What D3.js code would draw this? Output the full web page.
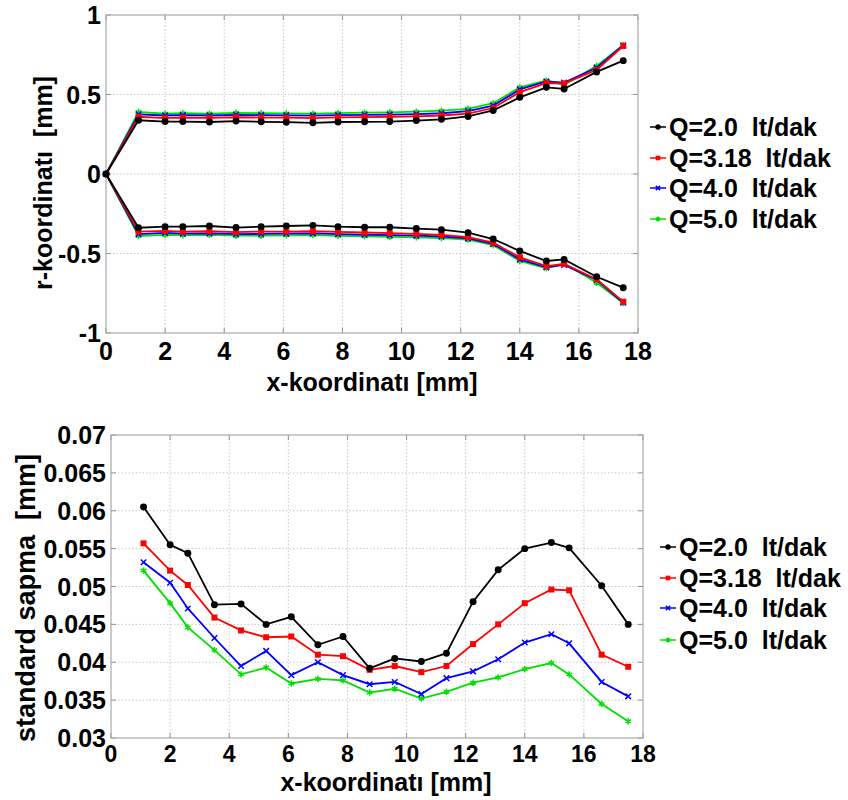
<!DOCTYPE html>
<html>
  <head>
    <title>r-koordinatı / standard sapma</title>
    <script src="https://cdnjs.cloudflare.com/ajax/libs/d3/7.8.5/d3.min.js"></script>
  <style>
body
{
  margin: 0;
  background: white;
}

svg text
{
  font-family: "Liberation Sans", Arial, sans-serif;
  font-weight: bold;
  fill: black;
}

line.grid
{
  stroke: #c8c8c8;
  stroke-width: 1px;
  stroke-dasharray: 1.5 2;
}

rect.frame
{
  fill: none;
  stroke: #a8a8a8;
  stroke-width: 1.2px;
}
  </style>
  </head>
  <body>
    <div id="chart"></div>
<script>
// x positions (mm) of the measuring stations
var xTop = [0, 1.1, 2.0, 2.6, 3.5, 4.4, 5.25, 6.1, 7.0, 7.85, 8.75, 9.6, 10.5,
            11.35, 12.25, 13.1, 14.0, 14.9, 15.5, 16.6, 17.5];
var xBottom = xTop.slice(1);

var seriesNames = ['Q=2.0  lt/dak', 'Q=3.18  lt/dak', 'Q=4.0  lt/dak', 'Q=5.0  lt/dak'];
var seriesColors = ['#000000', '#ff0000', '#0000ff', '#00e000'];

// upper contour r (mm)
var rUp2 = [0, 0.338, 0.330, 0.330, 0.327, 0.333, 0.328, 0.326, 0.322, 0.327, 0.328,
            0.330, 0.336, 0.344, 0.362, 0.400, 0.482, 0.545, 0.535, 0.642, 0.713];
var rUp318 = [0, 0.360, 0.352, 0.355, 0.353, 0.357, 0.355, 0.354, 0.352, 0.356, 0.358,
              0.360, 0.363, 0.368, 0.380, 0.415, 0.515, 0.572, 0.570, 0.655, 0.805];
var rUp4 = [0, 0.375, 0.368, 0.370, 0.368, 0.372, 0.370, 0.369, 0.367, 0.370, 0.372,
            0.374, 0.377, 0.382, 0.395, 0.430, 0.532, 0.582, 0.575, 0.668, 0.810];
var rUp5 = [0, 0.390, 0.380, 0.382, 0.380, 0.385, 0.382, 0.381, 0.380, 0.383, 0.386,
            0.388, 0.392, 0.398, 0.410, 0.445, 0.545, 0.588, 0.560, 0.680, 0.812];

// lower contour r (mm)
var rLow2 = [0, -0.338, -0.331, -0.331, -0.327, -0.337, -0.331, -0.327, -0.323, -0.331, -0.335,
             -0.335, -0.343, -0.350, -0.369, -0.409, -0.484, -0.547, -0.537, -0.646, -0.715];
var rLow318 = [0, -0.362, -0.358, -0.362, -0.360, -0.365, -0.362, -0.362, -0.360, -0.364, -0.368,
               -0.372, -0.376, -0.383, -0.397, -0.432, -0.524, -0.579, -0.566, -0.662, -0.803];
var rLow4 = [0, -0.378, -0.370, -0.375, -0.373, -0.378, -0.377, -0.375, -0.373, -0.378, -0.382,
             -0.385, -0.388, -0.393, -0.405, -0.440, -0.537, -0.587, -0.572, -0.667, -0.810];
var rLow5 = [0, -0.390, -0.383, -0.385, -0.383, -0.388, -0.388, -0.386, -0.384, -0.389, -0.392,
             -0.395, -0.398, -0.403, -0.413, -0.448, -0.547, -0.593, -0.562, -0.684, -0.812];

// standard deviation (mm)
var sd2 = [0.0605, 0.0555, 0.0544, 0.0476, 0.0477, 0.0450, 0.0460, 0.0423, 0.0434, 0.0392,
           0.0405, 0.0401, 0.0412, 0.0480, 0.0522, 0.0550, 0.0558, 0.0551, 0.0501, 0.0450];
var sd318 = [0.0557, 0.0521, 0.0502, 0.0459, 0.0442, 0.0433, 0.0434, 0.0410, 0.0408, 0.0390,
             0.0395, 0.0387, 0.0395, 0.0424, 0.0450, 0.0478, 0.0496, 0.0495, 0.0410, 0.0394];
var sd4 = [0.0532, 0.0505, 0.0471, 0.0432, 0.0395, 0.0415, 0.0383, 0.0400, 0.0383, 0.0371,
           0.0374, 0.0358, 0.0379, 0.0388, 0.0404, 0.0426, 0.0437, 0.0425, 0.0374, 0.0355];
var sd5 = [0.0521, 0.0478, 0.0446, 0.0416, 0.0384, 0.0393, 0.0372, 0.0378, 0.0376, 0.0360,
           0.0365, 0.0352, 0.0361, 0.0373, 0.0380, 0.0391, 0.0399, 0.0384, 0.0345, 0.0322];

var xTicks = [0, 2, 4, 6, 8, 10, 12, 14, 16, 18];
var rTicks = [-1, -0.5, 0, 0.5, 1];
var rTickLabels = ['-1', '-0.5', '0', '0.5', '1'];
var sdTicks = [0.03, 0.035, 0.04, 0.045, 0.05, 0.055, 0.06, 0.065, 0.07];
var sdTickLabels = ['0.03', '0.035', '0.04', '0.045', '0.05', '0.055', '0.06', '0.065', '0.07'];

var svg = d3.select("#chart").append("svg")
  .attr("width", 848).attr("height", 800);

// marker shapes: circle, square, small x, small asterisk
var markers = [
  {type: d3.symbolCircle, size: 38, fill: true},
  {type: d3.symbolSquare, size: 36, fill: true},
  {type: d3.symbolTimes, size: 22, fill: false},
  {type: d3.symbolAsterisk, size: 28, fill: false}
];

function drawMarker(g, i, scale) {
  var m = markers[i];
  var p = g.append("path")
    .attr("d", d3.symbol().type(m.type).size(m.size * (scale || 1))());
  if (m.fill) p.attr("fill", seriesColors[i]).attr("stroke", "none");
  else p.attr("fill", "none").attr("stroke", seriesColors[i]).attr("stroke-width", 1.5);
  return p;
}

function panel(opt) {
  var x = d3.scaleLinear().domain([0, 18]).range([opt.left, opt.right]);
  var y = d3.scaleLinear().domain(opt.yDomain).range([opt.bottom, opt.top]);
  var g = svg.append("g");

  // grid
  g.selectAll("line.gx").data(xTicks.slice(1, -1)).enter().append("line")
    .attr("class", "grid")
    .attr("x1", x).attr("x2", x).attr("y1", opt.top).attr("y2", opt.bottom);
  g.selectAll("line.gy").data(opt.yTicks.slice(1, -1)).enter().append("line")
    .attr("class", "grid")
    .attr("y1", y).attr("y2", y).attr("x1", opt.left).attr("x2", opt.right);

  // inward ticks on all sides
  var tk = 5;
  var tickG = g.append("g").attr("stroke", "#909090").attr("stroke-width", 1);
  xTicks.forEach(function(t) {
    tickG.append("line").attr("x1", x(t)).attr("x2", x(t))
      .attr("y1", opt.bottom).attr("y2", opt.bottom - tk);
    tickG.append("line").attr("x1", x(t)).attr("x2", x(t))
      .attr("y1", opt.top).attr("y2", opt.top + tk);
  });
  opt.yTicks.forEach(function(t) {
    tickG.append("line").attr("y1", y(t)).attr("y2", y(t))
      .attr("x1", opt.left).attr("x2", opt.left + tk);
    tickG.append("line").attr("y1", y(t)).attr("y2", y(t))
      .attr("x1", opt.right).attr("x2", opt.right - tk);
  });

  g.append("rect").attr("class", "frame")
    .attr("x", opt.left).attr("y", opt.top)
    .attr("width", opt.right - opt.left).attr("height", opt.bottom - opt.top);

  // tick labels
  g.selectAll("text.xt").data(xTicks).enter().append("text")
    .attr("x", x).attr("y", opt.bottom + opt.xTickDy)
    .attr("text-anchor", "middle")
    .style("font-size", opt.xTickSize + "px")
    .text(function(d) { return d; });
  g.selectAll("text.yt").data(opt.yTicks).enter().append("text")
    .attr("x", opt.left - 5).attr("y", function(d) { return y(d) + 9; })
    .attr("text-anchor", "end")
    .style("font-size", "25px")
    .text(function(d, i) { return opt.yTickLabels[i]; });

  // axis titles
  g.append("text")
    .attr("x", opt.xLabelX).attr("y", opt.xLabelY)
    .attr("text-anchor", "middle")
    .style("font-size", "25px")
    .text("x-koordinatı [mm]");
  g.append("text")
    .attr("transform", "translate(" + opt.yLabelX + "," + opt.yLabelY + ") rotate(-90)")
    .attr("text-anchor", "middle")
    .style("font-size", opt.yLabelSize + "px")
    .style("white-space", "pre")
    .text(opt.yLabel);

  // series
  var line = d3.line()
    .x(function(d) { return x(d[0]); })
    .y(function(d) { return y(d[1]); });
  opt.series.forEach(function(s) {
    var pts = d3.zip(opt.xs, s.values);
    g.append("path").datum(pts)
      .attr("d", line)
      .attr("fill", "none")
      .attr("stroke", seriesColors[s.idx])
      .attr("stroke-width", 1.8);
    pts.forEach(function(p) {
      var mg = g.append("g")
        .attr("transform", "translate(" + x(p[0]) + "," + y(p[1]) + ")");
      drawMarker(mg, s.idx, opt.markerScale);
    });
  });

  // legend
  seriesNames.forEach(function(name, i) {
    var ly = opt.legendY[i];
    var lg = g.append("g");
    lg.append("line")
      .attr("x1", opt.legendX).attr("x2", opt.legendX + 16)
      .attr("y1", ly).attr("y2", ly)
      .attr("stroke", seriesColors[i]).attr("stroke-width", 1.5);
    var mg = lg.append("g").attr("transform", "translate(" + (opt.legendX + 8) + "," + ly + ")");
    drawMarker(mg, i, 0.6);
    lg.append("text")
      .attr("x", opt.legendX + 19).attr("y", ly + 9)
      .style("font-size", "25px")
      .style("white-space", "pre")
      .text(name);
  });
}

var order = [3, 2, 1, 0];

panel({
  left: 106, right: 638, top: 15, bottom: 333,
  yDomain: [-1, 1], yTicks: rTicks, yTickLabels: rTickLabels,
  xTickSize: 25, xTickDy: 27,
  xLabelX: 372, xLabelY: 391,
  yLabelX: 52, yLabelY: 183, yLabel: "r-koordinatı  [mm]", yLabelSize: 25,
  xs: xTop, markerScale: 1,
  series: [
    {idx: 3, values: rUp5}, {idx: 2, values: rUp4}, {idx: 1, values: rUp318}, {idx: 0, values: rUp2},
    {idx: 3, values: rLow5}, {idx: 2, values: rLow4}, {idx: 1, values: rLow318}, {idx: 0, values: rLow2}
  ],
  legendX: 650, legendY: [127, 158, 188, 219]
});

panel({
  left: 111, right: 643, top: 435, bottom: 738,
  yDomain: [0.03, 0.07], yTicks: sdTicks, yTickLabels: sdTickLabels,
  xTickSize: 23, xTickDy: 24,
  xLabelX: 386, xLabelY: 791,
  yLabelX: 35, yLabelY: 598, yLabel: "standard sapma  [mm]", yLabelSize: 27,
  xs: xBottom, markerScale: 1,
  series: order.map(function(i) { return {idx: i, values: [sd2, sd318, sd4, sd5][i]}; }),
  legendX: 660, legendY: [547, 578, 608, 640]
});
</script>
  </body>
</html>
